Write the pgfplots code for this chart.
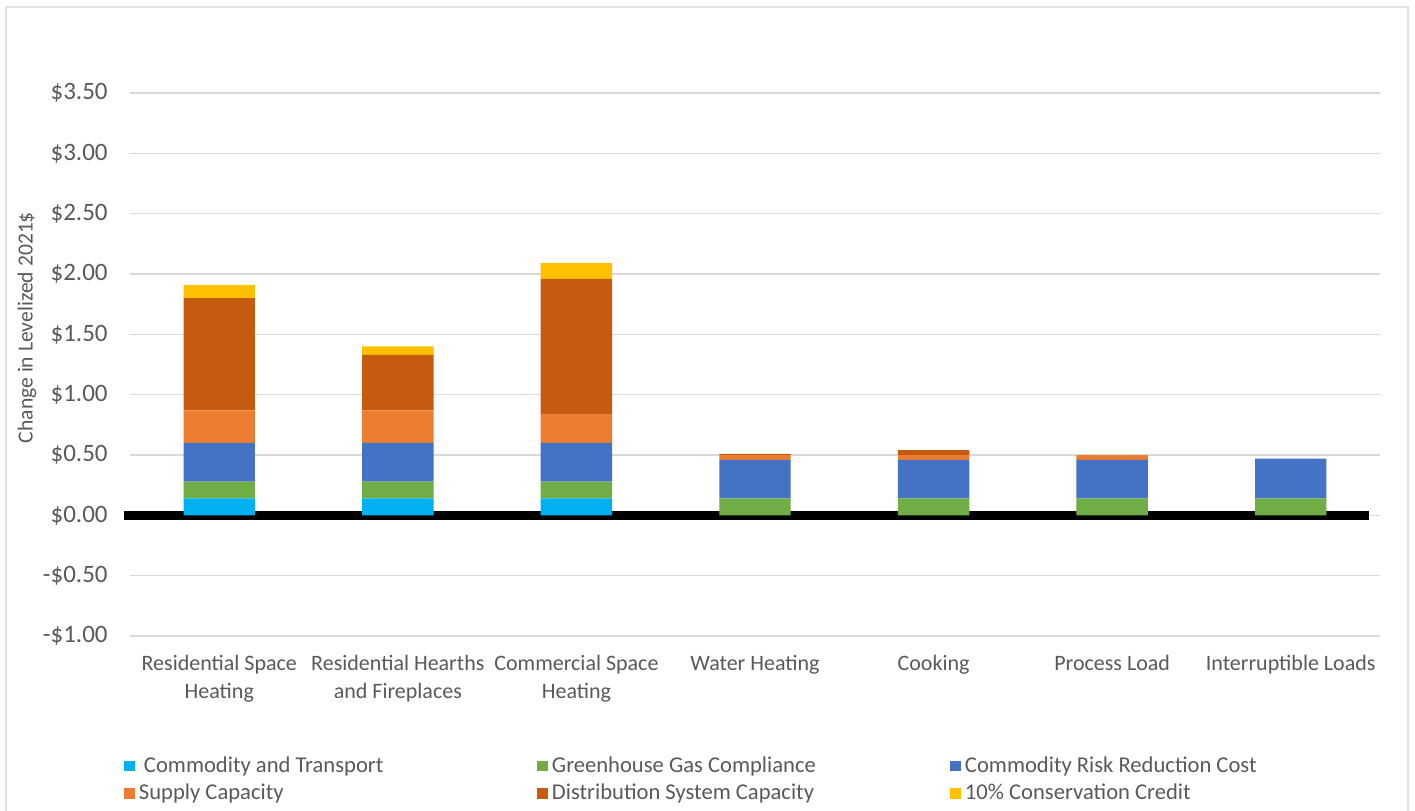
\documentclass[border=0pt]{standalone}
\usepackage{pgfplots}
\pgfplotsset{compat=1.18}
\usepackage{pgfplotstable}
\usepackage{fontspec}
\setmainfont{Carlito}

\definecolor{cCommodity}{HTML}{00B0F0}
\definecolor{cGHG}{HTML}{70AD47}
\definecolor{cRisk}{HTML}{4472C4}
\definecolor{cSupply}{HTML}{ED7D31}
\definecolor{cDist}{HTML}{C55A11}
\definecolor{cCredit}{HTML}{FFC000}
\definecolor{txtgray}{HTML}{595959}
\definecolor{gridgray}{HTML}{D9D9D9}
\definecolor{framegray}{HTML}{E2E2E2}

% Levelized cost components by end use (2021$)
\pgfplotstableread{
x  comm  ghg   risk  supply dist  credit
0  0.14  0.14  0.32  0.27   0.93  0.11
1  0.14  0.14  0.32  0.27   0.46  0.07
2  0.14  0.14  0.32  0.24   1.12  0.13
3  0.00  0.14  0.32  0.04   0.01  0.00
4  0.00  0.14  0.32  0.04   0.04  0.00
5  0.00  0.14  0.32  0.04   0.00  0.00
6  0.00  0.14  0.33  0.00   0.00  0.00
}\costdata

\newcommand{\legtext}[1]{\makebox[193pt][l]{#1}}

\begin{document}
\begin{tikzpicture}
\useasboundingbox (0,0) rectangle (707.5pt,405pt);
\draw[framegray, line width=0.8pt] (3pt,-5pt) -- (3pt,401.5pt) -- (704pt,401.5pt) -- (704pt,-5pt);
\begin{axis}[
  at={(65pt,87pt)}, anchor=south west,
  scale only axis,
  width=625pt, height=271.5pt,
  font=\fontsize{11}{14}\selectfont,
  ybar stacked,
  bar width=35.7pt,
  xmin=-0.5, xmax=6.5,
  ymin=-1, ymax=3.5,
  clip=false,
  axis line style={draw=none},
  tick style={draw=none},
  ytick={-1,-0.5,0,0.5,1,1.5,2,2.5,3,3.5},
  yticklabels={-\$1.00,-\$0.50,\$0.00,\$0.50,\$1.00,\$1.50,\$2.00,\$2.50,\$3.00,\$3.50},
  yticklabel style={text=txtgray, font=\fontsize{12.5}{14}\selectfont, inner sep=0pt, xshift=-11pt},
  xtick={0,...,6},
  xticklabels={Residential Space\\Heating, Residential Hearths\\and Fireplaces, Commercial Space\\Heating, Water Heating, Cooking, Process Load, Interruptible Loads},
  xticklabel style={text=txtgray, align=center, anchor=north, inner sep=0pt, yshift=-9.6pt},
  ymajorgrids,
  grid style={gridgray, line width=0.6pt},
  ylabel={Change in Levelized 2021\$},
  ylabel style={text=txtgray, font=\fontsize{10.8}{13}\selectfont, at={(rel axis cs:-0.0824,0.568)}, anchor=center},
  legend columns=3,
  legend cell align=left,
  legend style={
    at={(rel axis cs:-0.0048,-0.215)}, anchor=north west,
    draw=none, fill=none, inner sep=0pt, outer sep=0pt,
    font=\fontsize{11.3}{13.5}\selectfont,
    text=txtgray, row sep=0.3pt,
    /tikz/every even column/.append style={column sep=4pt},
  },
  legend image code/.code={\fill[#1] (0pt,-2.6pt) rectangle (5.5pt,2.6pt);},
]
\addplot[fill=cCommodity, draw=none] table[x=x, y=comm] {\costdata};
\addplot[fill=cGHG, draw=none] table[x=x, y=ghg] {\costdata};
\addplot[fill=cRisk, draw=none] table[x=x, y=risk] {\costdata};
\addplot[fill=cSupply, draw=none] table[x=x, y=supply] {\costdata};
\addplot[fill=cDist, draw=none] table[x=x, y=dist] {\costdata};
\addplot[fill=cCredit, draw=none] table[x=x, y=credit] {\costdata};
\addlegendentry{\legtext{\hspace{2.5pt}Commodity and Transport}}
\addlegendentry{\legtext{Greenhouse Gas Compliance}}
\addlegendentry{\legtext{Commodity Risk Reduction Cost}}
\addlegendentry{\legtext{Supply Capacity}}
\addlegendentry{\legtext{Distribution System Capacity}}
\addlegendentry{\legtext{10\% Conservation Credit}}
% zero line
\draw[black, line width=4.5pt] (axis cs:-0.534,0) -- (axis cs:6.437,0);
\end{axis}
\end{tikzpicture}
\end{document}
